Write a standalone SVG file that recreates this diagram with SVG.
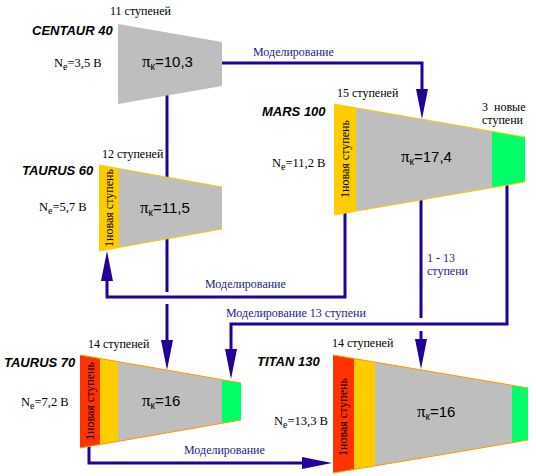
<svg xmlns="http://www.w3.org/2000/svg" width="536" height="476" viewBox="0 0 536 476">
<defs>
<style>
.lbl{font-family:"Liberation Serif","Times New Roman",serif;font-size:12px;fill:#000}
.blue{font-family:"Liberation Serif","Times New Roman",serif;font-size:12px;fill:#1c1a8c}
.name{font-family:"Liberation Sans",Arial,sans-serif;font-size:13px;font-weight:bold;font-style:italic;fill:#000}
.ne{font-family:"Liberation Serif","Times New Roman",serif;font-size:12.5px;fill:#000}
.pi{font-family:"Liberation Sans",Arial,sans-serif;font-size:15px;fill:#000}
.pig{font-family:"Liberation Serif","Times New Roman",serif;font-size:17px}
.sub{font-size:10px}
.vt{font-family:"Liberation Serif","Times New Roman",serif;font-size:12px;fill:#000}
.gray{fill:#bebebe}
.yel{fill:#ffcc00}
.grn{fill:#00ff66}
.red{fill:#ff3300}
.edge{fill:none;stroke:#ffcc00;stroke-width:1}
.edge2{fill:none;stroke:#ff9900;stroke-width:1}
.ln{fill:none;stroke:#220099;stroke-width:3}
.arr{fill:#220099}
</style>
<marker id="ah" viewBox="0 0 30 12" refX="0" refY="6" markerWidth="30" markerHeight="12" markerUnits="userSpaceOnUse" orient="auto">
<path d="M0,0 L30,6 L0,12 z" class="arr"/>
</marker>
</defs>

<g id="connectors">
<path class="ln" d="M222,63 H422 V89" marker-end="url(#ah)"/>
<path class="ln" d="M167,90 V292"/>
<path class="ln" d="M167,304 V340" marker-end="url(#ah)"/>
<path class="ln" d="M345,210 V297 H107 V281" marker-end="url(#ah)"/>
<path class="ln" d="M421,195 V318"/>
<path class="ln" d="M421,331 V339" marker-end="url(#ah)"/>
<path class="ln" d="M507,185 V324 H231 V349" marker-end="url(#ah)"/>
<path class="ln" d="M89,444 V463 H302" marker-end="url(#ah)"/>
<text class="blue" x="253" y="56">Моделирование</text>
<text class="blue" x="205" y="288">Моделирование</text>
<text class="blue" x="427" y="262">1 - 13</text>
<text class="blue" x="427" y="275">ступени</text>
<text class="blue" x="226" y="317">Моделирование 13 ступени</text>
<text class="blue" x="184" y="454">Моделирование</text>
</g>

<g id="centaur40">
<polygon class="gray" points="118,24 222,42 222,86 118,104"/>
<text class="lbl" x="110" y="15">11 ступеней</text>
<text class="name" x="32" y="35">CENTAUR 40</text>
<text class="ne" x="54" y="67">N<tspan class="sub" dy="3">e</tspan><tspan dy="-3">=3,5 В</tspan></text>
<text class="pi" x="142" y="67"><tspan class="pig">π</tspan><tspan class="sub" dy="3">к</tspan><tspan dy="-3">=10,3</tspan></text>
</g>

<g id="taurus60">
<polygon class="gray" points="119,168.6 222,187 222,229 119,247.4"/>
<polygon class="yel" points="99,165 119,168.6 119,247.4 99,251"/>
<path class="edge" d="M99,165 L222,187 M99,251 L222,229"/>
<text class="lbl" x="102" y="158">12 ступеней</text>
<text class="name" x="22" y="175">TAURUS 60</text>
<text class="ne" x="39" y="211">N<tspan class="sub" dy="3">e</tspan><tspan dy="-3">=5,7 В</tspan></text>
<text class="pi" x="140" y="213"><tspan class="pig">π</tspan><tspan class="sub" dy="3">к</tspan><tspan dy="-3">=11,5</tspan></text>
<text class="vt" transform="translate(113,208) rotate(-90)" text-anchor="middle">1новая ступень</text>
</g>

<g id="mars100">
<polygon class="gray" points="356,107.8 492,131.3 492,187.7 356,211.2"/>
<polygon class="yel" points="334,104 356,107.8 356,211.2 334,215"/>
<polygon class="grn" points="492,131.3 525,137 525,182 492,187.7"/>
<path class="edge" d="M334,104 L525,137 M334,215 L525,182"/>
<text class="lbl" x="337" y="97">15 ступеней</text>
<text class="name" x="262" y="116">MARS 100</text>
<text class="lbl" x="482" y="111">3<tspan x="494">новые</tspan></text>
<text class="lbl" x="482" y="124">ступени</text>
<text class="ne" x="272" y="167">N<tspan class="sub" dy="3">e</tspan><tspan dy="-3">=11,2 В</tspan></text>
<text class="pi" x="401" y="162"><tspan class="pig">π</tspan><tspan class="sub" dy="3">к</tspan><tspan dy="-3">=17,4</tspan></text>
<text class="vt" transform="translate(349,159) rotate(-90)" text-anchor="middle">1новая ступень</text>
</g>

<g id="taurus70">
<polygon class="red" points="80,355 100,358.5 100,444.5 80,448"/>
<polygon class="yel" points="100,358.5 118,361.6 118,441.4 100,444.5"/>
<polygon class="gray" points="118,361.6 222,379.7 222,423.3 118,441.4"/>
<polygon class="grn" points="222,379.7 241,383 241,420 222,423.3"/>
<path class="edge2" d="M80,355 L241,383 M80,448 L241,420"/>
<text class="lbl" x="88" y="348">14 ступеней</text>
<text class="name" x="4" y="367">TAURUS 70</text>
<text class="ne" x="21" y="406">N<tspan class="sub" dy="3">e</tspan><tspan dy="-3">=7,2 В</tspan></text>
<text class="pi" x="142" y="406"><tspan class="pig">π</tspan><tspan class="sub" dy="3">к</tspan><tspan dy="-3">=16</tspan></text>
<text class="vt" transform="translate(94,401) rotate(-90)" text-anchor="middle">1новая ступень</text>
</g>

<g id="titan130">
<polygon class="red" points="333,355 354,358.6 354,469.4 333,473"/>
<polygon class="yel" points="354,358.6 375,362.1 375,465.9 354,469.4"/>
<polygon class="gray" points="375,362.1 512,385.3 512,442.7 375,465.9"/>
<polygon class="grn" points="512,385.3 528,388 528,440 512,442.7"/>
<path class="edge2" d="M333,355 L528,388 M333,473 L528,440"/>
<text class="lbl" x="332" y="347">14 ступеней</text>
<text class="name" x="257" y="366">TITAN 130</text>
<text class="ne" x="274" y="425">N<tspan class="sub" dy="3">e</tspan><tspan dy="-3">=13,3 В</tspan></text>
<text class="pi" x="417" y="417"><tspan class="pig">π</tspan><tspan class="sub" dy="3">к</tspan><tspan dy="-3">=16</tspan></text>
<text class="vt" transform="translate(347,417) rotate(-90)" text-anchor="middle">1новая ступень</text>
</g>
</svg>
